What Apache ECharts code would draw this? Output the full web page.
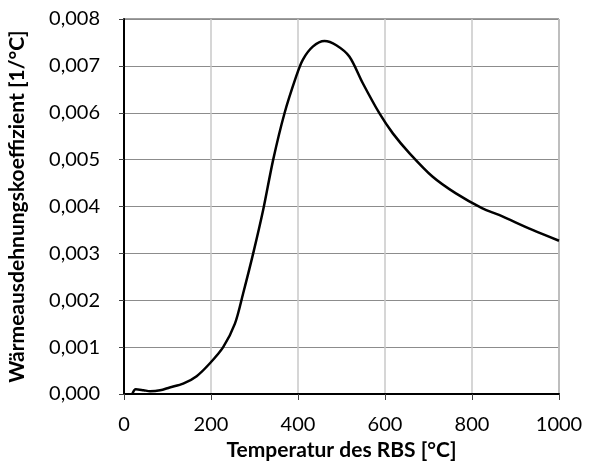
<!DOCTYPE html>
<html><head><meta charset="utf-8">
<script src="https://cdn.jsdelivr.net/npm/echarts@6/dist/echarts.min.js"></script>
<style>html,body{margin:0;padding:0;background:#fff}#c{width:591px;height:461px}</style>
</head><body><div id="c"></div>
<script>
const temps = [19, 27, 45, 60, 83, 105, 136, 167, 197, 228, 255, 274, 297, 320, 343, 369, 396, 411, 434, 461, 488, 518, 549, 587, 618, 656, 709, 763, 824, 862, 939, 1000];
const coeff = [0.0, 0.0001, 0.00008, 0.00006, 0.00008, 0.00014, 0.00022, 0.00038, 0.00065, 0.0010, 0.0015, 0.00215, 0.0030, 0.00393, 0.0050, 0.00599, 0.00678, 0.00713, 0.00741, 0.00753, 0.00744, 0.0072, 0.00663, 0.00599, 0.00556, 0.00514, 0.00464, 0.00428, 0.00396, 0.00382, 0.0035, 0.00327];
const xTicks = [0, 200, 400, 600, 800, 1000];
const yTicks = [0, 0.001, 0.002, 0.003, 0.004, 0.005, 0.006, 0.007, 0.008];
const xTitle = 'Temperatur des RBS [°C]';
const yTitle = 'Wärmeausdehnungskoeffizient [1/°C]';

const font = 'Lato, "Open Sans", sans-serif';
const chart = echarts.init(document.getElementById('c'));
chart.setOption({
  animation: false,
  grid: {left: 124, right: 32, top: 19, bottom: 67, show: true, borderColor: '#404040', borderWidth: 1,
    outerBoundsMode: 'none', containLabel: false},
  xAxis: {
    type: 'value', min: xTicks[0], max: xTicks[xTicks.length-1], interval: 200,
    axisLine: {show: true, lineStyle: {color: '#000', width: 2}},
    axisTick: {show: true, length: 6, lineStyle: {color: '#404040'}},
    axisLabel: {color: '#000', fontSize: 20, fontFamily: font, margin: 21,
      formatter: v => String(v)},
    splitLine: {show: true, lineStyle: {color: '#c8c8c8', width: 1.5}},
    name: xTitle, nameLocation: 'middle', nameGap: 33,
    nameTextStyle: {color: '#000', fontSize: 21, fontWeight: 'bold', fontFamily: font}
  },
  yAxis: {
    type: 'value', min: yTicks[0], max: yTicks[yTicks.length-1], interval: 0.001,
    axisLine: {show: true, lineStyle: {color: '#000', width: 2}},
    axisTick: {show: true, length: 5, lineStyle: {color: '#404040'}},
    axisLabel: {color: '#000', fontSize: 20, fontFamily: font, margin: 24,
      formatter: v => v.toFixed(3).replace('.', ',')},
    splitLine: {show: true, lineStyle: {color: '#8c8c8c', width: 1}},
    name: yTitle, nameLocation: 'middle', nameGap: 96,
    nameTextStyle: {color: '#000', fontSize: 21, fontWeight: 'bold', fontFamily: font}
  },
  series: [{
    type: 'line', data: temps.map((t, i) => [t, coeff[i]]),
    smooth: 0.3, symbol: 'none',
    lineStyle: {color: '#000', width: 2.5}
  }]
});
</script></body></html>
